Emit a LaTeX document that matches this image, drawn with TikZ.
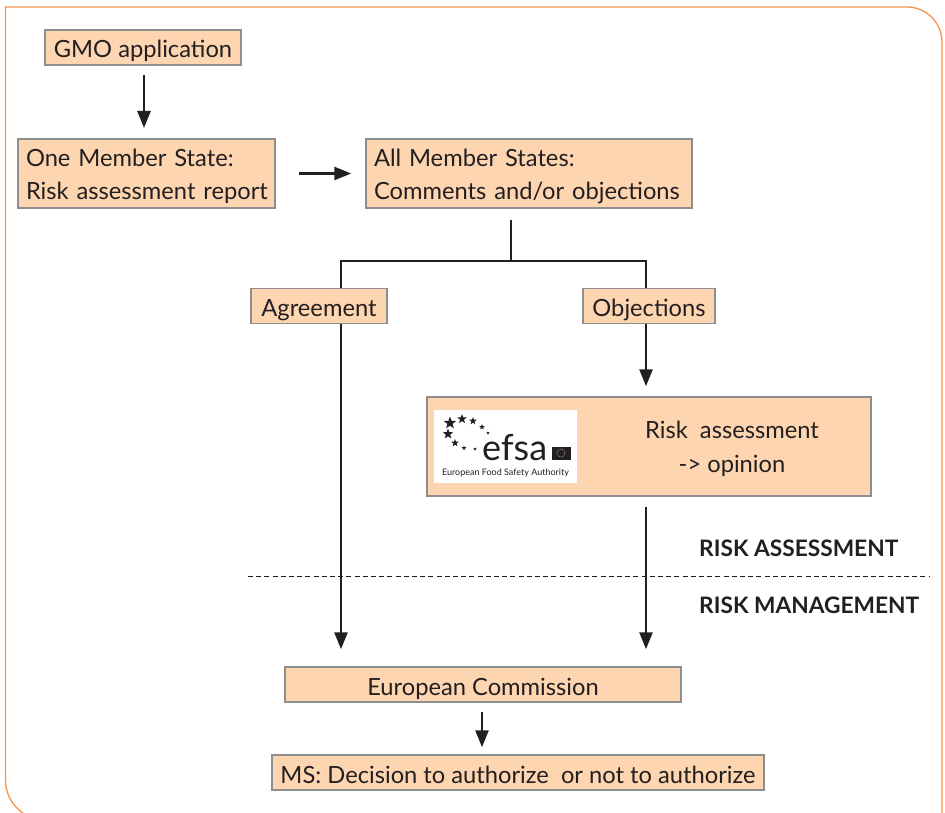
\documentclass[tikz,border=0pt]{standalone}
\usepackage{fontspec}
\setmainfont[Ligatures=TeX,Contextuals=NoAlternate]{Lato}
\usetikzlibrary{arrows.meta,shapes.geometric,calc}
\definecolor{boxfill}{HTML}{FDD5B1}
\definecolor{boxline}{HTML}{8E8E8E}
\definecolor{frameorange}{HTML}{F6924A}
\definecolor{ink}{HTML}{231F20}
\tikzset{
  box/.style={draw=boxline,line width=1.5pt,fill=boxfill,text=ink,inner sep=0pt,minimum height=#1,font=\fontsize{23.7}{33}\selectfont,text height=21pt,text depth=0pt},
  box/.default=35pt,
  twoline/.style={text height=21pt,text depth=34pt,align=left,text width=#1},
  conn/.style={draw=ink,line width=2.6pt},
  arr/.style={conn,-{Triangle[width=13pt,length=17pt]}},
  headtext/.style={text=ink,font=\fontsize{22.7}{26}\selectfont\bfseries,anchor=base west,inner sep=0pt},
  lightstar/.style={star,star points=5,star point ratio=2.4,fill=ink,inner sep=0pt,minimum size=#1},
}
\begin{document}
\begin{tikzpicture}[x=1pt,y=-1pt]
\useasboundingbox (0,0) rectangle (945,813);
\begin{scope}
\clip (0,0) rectangle (945,813);
\draw[frameorange,line width=1.3pt] (5.5,780) -- (5.5,7) -- (907,7) arc[start angle=90,end angle=0,radius=35pt] -- (942,830);
\draw[frameorange,line width=1.3pt] (5.5,780) arc[start angle=180,end angle=270,radius=40pt];
\end{scope}
% boxes
\node[box,minimum width=196pt] (gmo) at (143,47.5) {GMO application};
\node[box=69pt,minimum width=257pt,twoline=241pt] (one) at (146.5,173.5) {One Member State:\\\mbox{Risk assessment report}};
\node[box=69pt,minimum width=326pt,twoline=310pt] (all) at (529,173.5) {All Member States:\\\mbox{Comments and/or objections}};
\node[box,minimum width=136pt] (agr) at (319,306) {Agreement};
\node[box,minimum width=132pt] (obj) at (649,306) {Objections};
\node[box=99pt,minimum width=444pt] (efsa) at (649,446.5) {};
\node[fill=white,inner sep=0pt,minimum width=143pt,minimum height=73pt] (logo) at (505.5,446.5) {};
\node[text=ink,align=center,inner sep=0pt,font=\fontsize{23.7}{34}\selectfont] (ratext) at (732,449) {Risk\ \ assessment\\-> opinion};
\node[box,minimum width=396pt] (ec) at (483,684.5) {European Commission};
\node[box,minimum width=492pt] (ms) at (518,772.5) {MS: Decision to authorize\ \ or not to authorize};
% logo
\foreach \n/\x/\y/\s in {a/450/423/13,b/462/419/10,c/473/421/8,d/482/427/6,e/488/433/3.5,f/448/434/11,g/455/443/8,h/464/448/5,i/475/449/3.5}
  \node[lightstar=\s pt] (star\n) at (\x,\y) {};
\node[text=ink,inner sep=0pt,anchor=base west,font=\fontsize{36}{40}\selectfont] (efsaword) at (482,460) {efsa};
\node[fill=ink,inner sep=0pt,minimum width=19pt,minimum height=13pt] (flag) at (561,453) {};
\draw[white,line width=.5pt,dash pattern=on .8pt off 1.2pt] (flag.center) circle (4pt);
\node[text=ink,inner sep=0pt,anchor=base,font=\fontsize{9}{10}\selectfont] (efsaname) at (505.5,475) {European Food Safety Authority};
% connectors
\coordinate (split) at (511,261);
\coordinate (left) at (341,261);
\coordinate (right) at (646,261);
\draw[arr,shorten <=9pt,shorten >=11pt] (gmo.south -| 144,0) -- (144,139);
\draw[arr,shorten <=23pt,shorten >=14pt] (one.east) -- (all.west);
\draw[conn] (511,220) -- (split);
\draw[conn] (left |- agr.north) -- (left) -- (right) -- (right |- obj.north);
\draw[arr,shorten >=17pt] (left |- agr.south) -- (left |- ec.north);
\draw[arr,shorten >=10pt] (right |- obj.south) -- (right |- efsa.north);
\draw[arr,shorten <=10pt,shorten >=17pt] (right |- efsa.south) -- (right |- ec.north);
\draw[arr,shorten <=9pt,shorten >=7pt] (482,0 |- ec.south) -- (482,0 |- ms.north);
% divider
\coordinate (dashl) at (248,576);
\coordinate (dashr) at (930,576);
\draw[ink,line width=1pt,dash pattern=on 5pt off 3.2pt] (dashl) -- (dashr);
\node[headtext] (ra) at (699,556) {RISK ASSESSMENT};
\node[headtext] (rm) at (699,613) {RISK MANAGEMENT};
\end{tikzpicture}
\end{document}
